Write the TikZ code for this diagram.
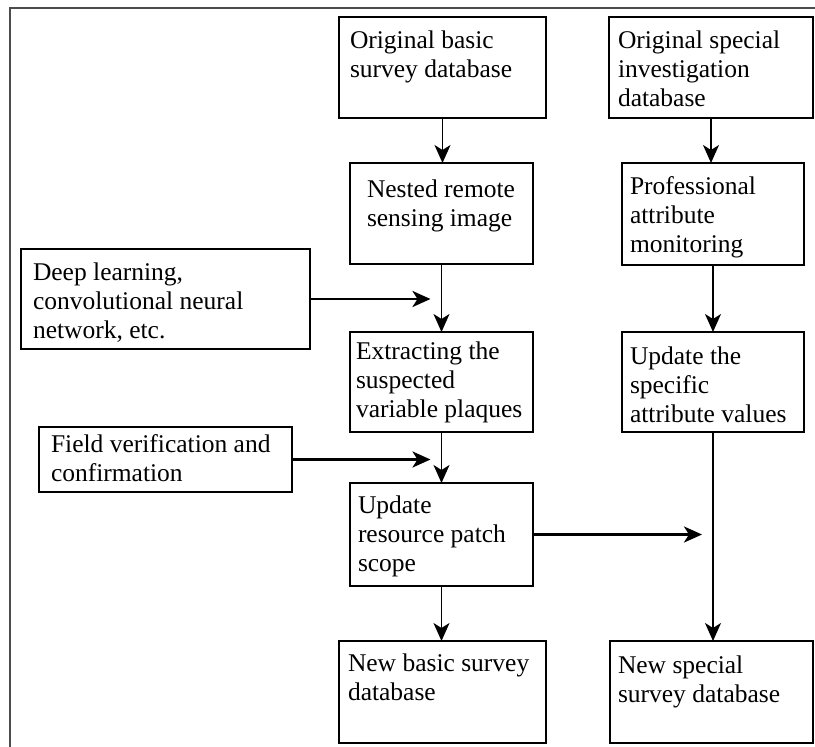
\documentclass[tikz,border=0pt]{standalone}
\usepackage{fontspec}
\setmainfont{Liberation Serif}
\usetikzlibrary{arrows.meta}

% text block: [left pad][first baseline]{width}{height}{lines}
\NewDocumentCommand{\blktext}{O{9} O{30} m m m}{%
	\hspace*{#1pt}\parbox[c][#4pt][t]{\dimexpr #3pt-#1pt\relax}{\raggedright\rule{0pt}{#2pt}#5}}

\begin{document}
\begin{tikzpicture}[x=1pt,y=-1pt,>={Stealth[length=18pt,width=16pt,inset=5pt]},
	font=\fontsize{25.5}{29}\selectfont,
	blk/.style={draw,line width=2pt,inner sep=0pt,outer sep=0pt,anchor=north west},
	flow/.style={->,line width=1.6pt},
	feed/.style={->,line width=2.8pt}]
	\useasboundingbox (0,0) rectangle (815,747);
	\draw[line width=1.5pt,black!70] (10,747) -- (10,8) -- (815,8);

	\node [blk] (origbasic) at (339,17) {\blktext[11][31]{207}{101}{Original basic\\survey database}};
	\node [blk] (origspec) at (609,17) {\blktext[9][31]{204}{101}{Original special\\investigation\\database}};

	\node [blk] (nested) at (350,163) {\blktext[17][34]{183}{101}{Nested remote\\sensing image}};
	\node [blk] (prof) at (622,163) {\blktext[8][31]{182}{102}{Professional\\attribute\\monitoring}};

	\node [blk] (deep) at (21,249) {\blktext[12][31]{289}{100}{Deep learning,\\convolutional neural\\network, etc.}};

	\node [blk] (extract) at (350,332) {\blktext[6][27]{183}{100}{Extracting the\\suspected\\variable plaques}};
	\node [blk] (attr) at (622,332) {\blktext[8][32]{182}{100}{Update the\\specific\\attribute values}};

	\node [blk] (field) at (39,427) {\blktext[12][25]{253}{65}{Field verification and\\confirmation}};

	\node [blk] (patch) at (350,483) {\blktext[8][30]{183}{103}{Update\\resource patch\\scope}};

	\node [blk] (newbasic) at (339,641) {\blktext[9][30]{207}{102}{New basic survey\\database}};
	\node [blk] (newspec) at (610,641) {\blktext[8][32]{203}{102}{New special\\survey database}};

	\draw[flow] (origbasic.south) -- (origbasic.south|-nested.north);
	\draw[flow] (nested.south) -- (nested.south|-extract.north);
	\draw[flow] (extract.south) -- (extract.south|-patch.north);
	\draw[flow] (patch.south) -- (patch.south|-newbasic.north);

	\draw[flow] (origspec.south) -- (origspec.south|-prof.north);
	\draw[flow] (prof.south) -- (prof.south|-attr.north);
	\draw[flow] (attr.south) -- (attr.south|-newspec.north);

	\draw[feed] (deep.east) -- ([xshift=-11pt]deep.east-|nested.south);
	\draw[feed] (field.east) -- ([xshift=-11pt]field.east-|extract.south);
	\draw[feed] (patch.east) -- ([xshift=-11pt]patch.east-|attr.south);
\end{tikzpicture}
\end{document}
